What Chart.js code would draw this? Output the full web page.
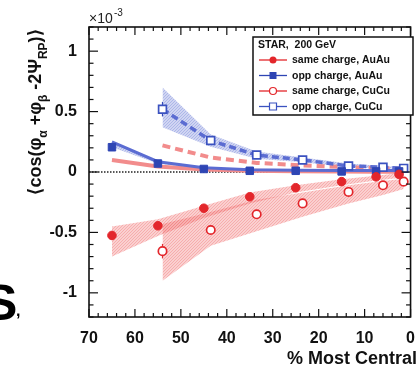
<!DOCTYPE html>
<html><head><meta charset="utf-8">
<script src="https://cdn.jsdelivr.net/npm/chart.js@4/dist/chart.umd.min.js"></script>
<style>html,body{margin:0;padding:0;background:#fff;overflow:hidden}#wrap{position:relative;width:419px;height:367px}</style>
</head><body><div id="wrap"><canvas id="c" width="419" height="367"></canvas></div>
<script>
// ---- data (units of 1e-3) ----
const xAu = [65, 55, 45, 35, 25, 15, 7.5, 2.5];
const xCu = [54, 43.5, 33.5, 23.5, 13.5, 6, 1.5];
const sameAu = [-0.525, -0.445, -0.30, -0.205, -0.13, -0.08, -0.04, -0.02];
const sameAuErr = [0.035, 0.02, 0.015, 0.01, 0.008, 0.008, 0.008, 0.008];
const oppAu = [0.205, 0.07, 0.025, 0.01, 0.01, 0.005, 0.005, 0.005];
const oppAuErr = [0.025, 0.015, 0.01, 0.008, 0.008, 0.008, 0.008, 0.008];
const sameCu = [-0.655, -0.48, -0.35, -0.26, -0.165, -0.11, -0.08];
const sameCuErr = [0.06, 0.03, 0.02, 0.015, 0.01, 0.01, 0.01];
const oppCu = [0.52, 0.26, 0.14, 0.10, 0.05, 0.04, 0.03];
const oppCuErr = [0.06, 0.03, 0.02, 0.015, 0.01, 0.01, 0.01];
// systematic bands
const sameAuBandHi = [-0.45, -0.39, -0.28, -0.17, -0.11, -0.06, -0.03, -0.01];
const sameAuBandLo = [-0.70, -0.53, -0.38, -0.26, -0.17, -0.11, -0.07, -0.05];
const sameCuBandHi = [-0.43, -0.33, -0.23, -0.17, -0.11, -0.075, -0.055];
const sameCuBandLo = [-0.90, -0.61, -0.49, -0.37, -0.26, -0.19, -0.14];
const oppAuEdge = [0.25, 0.085, 0.035, 0.018, 0.014, 0.012, 0.012, 0.012];
const oppCuBandHi = [0.70, 0.31, 0.17, 0.12, 0.07, 0.05, 0.04];
const oppCuBandLo = [0.37, 0.21, 0.11, 0.08, 0.04, 0.03, 0.025];
// HIJING three-particle contributions
const hijingAu = [0.10, 0.045, 0.02, 0.01, 0.006, 0.004, 0.003, 0.002];
const hijingCu = [0.22, 0.12, 0.075, 0.055, 0.04, 0.03, 0.03];
// ticks
const xTicks = [70, 60, 50, 40, 30, 20, 10, 0];
const yTicks = [-1, -0.5, 0, 0.5, 1];
const legendTitle = 'STAR,  200 GeV';
const legendLabels = ['same charge, AuAu', 'opp charge, AuAu', 'same charge, CuCu', 'opp charge, CuCu'];

const pts = (xs, ys) => xs.map((x, i) => ({x, y: ys[i]}));
const RED = '#e3262b', BLUE = '#2e45b4', PINK = '#f28c8c', LBLUE = '#5b6cd2';
const FONT = '"Liberation Sans", Arial, sans-serif';

function mkPattern(r, g, b) {
  const c = document.createElement('canvas'); c.width = c.height = 3;
  const x = c.getContext('2d');
  x.fillStyle = `rgba(${r},${g},${b},0.32)`; x.fillRect(0, 0, 3, 3);
  x.strokeStyle = `rgba(${r},${g},${b},0.35)`; x.lineWidth = 1;
  x.beginPath(); x.moveTo(0, 3); x.lineTo(3, 0); x.stroke();
  return document.getElementById('c').getContext('2d').createPattern(c, 'repeat');
}
const redBand = mkPattern(240, 110, 110), blueBand = mkPattern(110, 125, 215);

const band = (xs, ys, fill, bg) => ({data: pts(xs, ys), showLine: true, borderWidth: 0, pointRadius: 0, fill: fill, backgroundColor: bg, borderColor: 'rgba(0,0,0,0)'});

const datasets = [
  {data: pts(xAu, sameAu), showLine: false, pointStyle: 'circle', pointRadius: 4.3, backgroundColor: RED, borderColor: RED, borderWidth: 1, err: sameAuErr, errColor: RED},
  {data: pts(xAu, oppAu), showLine: false, pointStyle: 'rect', pointRadius: 5.3, backgroundColor: BLUE, borderColor: BLUE, borderWidth: 1, err: oppAuErr, errColor: BLUE},
  {data: pts(xCu, sameCu), showLine: false, pointStyle: 'circle', pointRadius: 4.2, backgroundColor: '#fff', borderColor: RED, borderWidth: 1.7, err: sameCuErr, errColor: RED},
  {data: pts(xCu, oppCu), showLine: false, pointStyle: 'rect', pointRadius: 5.5, backgroundColor: '#fff', borderColor: '#3b52c0', borderWidth: 1.7, err: oppCuErr, errColor: BLUE},
  {data: pts(xAu, oppAuEdge), showLine: true, pointRadius: 0, borderColor: LBLUE, borderWidth: 3, fill: false},
  {data: pts(xCu, oppCu), showLine: true, pointRadius: 0, borderColor: LBLUE, borderWidth: 3.5, borderDash: [7, 4], fill: false},
  {data: pts(xAu, hijingAu), showLine: true, pointRadius: 0, borderColor: PINK, borderWidth: 4, fill: false},
  {data: pts(xCu, hijingCu), showLine: true, pointRadius: 0, borderColor: PINK, borderWidth: 4, borderDash: [8, 5], fill: false},
  band(xAu, sameAuBandHi, '+1', redBand), band(xAu, sameAuBandLo, false, redBand),
  band(xCu, sameCuBandHi, '+1', redBand), band(xCu, sameCuBandLo, false, redBand),
  band(xAu, oppAuEdge, '+1', blueBand), band(xAu, oppAu, false, blueBand),
  band(xCu, oppCuBandHi, '+1', blueBand), band(xCu, oppCuBandLo, false, blueBand)
];

function line(ctx, a, b, c, d) { ctx.beginPath(); ctx.moveTo(a, b); ctx.lineTo(c, d); ctx.stroke(); }

const decor = {
  id: 'decor',
  beforeDatasetsDraw(chart) {
    const ctx = chart.ctx, ca = chart.chartArea, ys = chart.scales.y, xs = chart.scales.x;
    ctx.save();
    ctx.strokeStyle = '#222'; ctx.lineWidth = 1.5; ctx.setLineDash([1.5, 1.5]);
    const y0 = ys.getPixelForValue(0);
    line(ctx, ca.left, y0, ca.right, y0);
    ctx.setLineDash([]);
    chart.data.datasets.forEach(ds => {
      if (!ds.err) return;
      ctx.strokeStyle = ds.errColor; ctx.lineWidth = 1.2;
      ds.data.forEach((p, i) => {
        const px = xs.getPixelForValue(p.x);
        line(ctx, px, ys.getPixelForValue(p.y - ds.err[i]), px, ys.getPixelForValue(p.y + ds.err[i]));
      });
    });
    ctx.restore();
  },
  afterDatasetsDraw(chart) {
    const ctx = chart.ctx, ca = chart.chartArea, xs = chart.scales.x, ys = chart.scales.y;
    ctx.save();
    ctx.strokeStyle = '#111'; ctx.lineWidth = 1.2;
    for (let v = 0; v <= 70; v += 2) {
      const px = xs.getPixelForValue(v), L = v % 10 === 0 ? 8 : 4;
      line(ctx, px, ca.bottom, px, ca.bottom - L);
      line(ctx, px, ca.top, px, ca.top + L);
    }
    for (let i = -12; i <= 12; i++) {
      const py = ys.getPixelForValue(i / 10), L = i % 5 === 0 ? 9 : 4.5;
      line(ctx, ca.left, py, ca.left + L, py);
      line(ctx, ca.right, py, ca.right - L, py);
    }
    ctx.lineWidth = 1.6;
    ctx.strokeRect(ca.left, ca.top, ca.right - ca.left, ca.bottom - ca.top);
    ctx.restore();
  },
  afterDraw(chart) {
    const ctx = chart.ctx;
    ctx.save();
    const lx = 253, ly = 37, lw = 160, lh = 78;
    ctx.fillStyle = '#fff'; ctx.fillRect(lx, ly, lw, lh);
    ctx.strokeStyle = '#111'; ctx.lineWidth = 1.5; ctx.strokeRect(lx, ly, lw, lh);
    ctx.fillStyle = '#111'; ctx.font = 'bold 10.5px ' + FONT; ctx.textBaseline = 'middle';
    ctx.fillText(legendTitle, 258, 45);
    const rows = [60, 75.5, 91, 106.5];
    const styles = [
      {c: RED, shape: 'circle', fill: true}, {c: BLUE, shape: 'rect', fill: true},
      {c: RED, shape: 'circle', fill: false}, {c: '#3b52c0', shape: 'rect', fill: false}
    ];
    rows.forEach((y, i) => {
      const s = styles[i];
      ctx.strokeStyle = s.c; ctx.lineWidth = 1.3;
      line(ctx, 259, y, 287, y);
      ctx.beginPath();
      if (s.shape === 'circle') ctx.arc(273, y, 3.5, 0, Math.PI * 2);
      else ctx.rect(269.5, y - 3.5, 7, 7);
      if (s.fill) { ctx.fillStyle = s.c; ctx.fill(); }
      else { ctx.fillStyle = '#fff'; ctx.fill(); ctx.lineWidth = 1.2; ctx.stroke(); }
      ctx.fillStyle = '#111';
      ctx.fillText(legendLabels[i], 292, y + 0.5);
    });
    ctx.textBaseline = 'alphabetic'; ctx.fillStyle = '#222';
    ctx.font = '14px ' + FONT; ctx.fillText('×10', 89, 23);
    ctx.font = '10px ' + FONT; ctx.fillText('-3', 114, 16);
    ctx.translate(41, 112); ctx.rotate(-Math.PI / 2);
    const parts = [['⟨cos(φ', 0], ['α', 1], [' +φ', 0], ['β', 1], [' -2Ψ', 0], ['RP', 1], [')⟩', 0]];
    const mainF = 'bold 18px ' + FONT, subF = 'bold 12px ' + FONT;
    let tot = 0;
    parts.forEach(p => { ctx.font = p[1] ? subF : mainF; tot += ctx.measureText(p[0]).width; });
    let x = -tot / 2;
    ctx.fillStyle = '#111';
    parts.forEach(p => { ctx.font = p[1] ? subF : mainF; ctx.fillText(p[0], x, p[1] ? 6 : 0); x += ctx.measureText(p[0]).width; });
    ctx.setTransform(1, 0, 0, 1, 0, 0);
    ctx.font = 'bold 18px ' + FONT; ctx.textAlign = 'right'; ctx.fillStyle = '#111';
    ctx.fillText('% Most Central', 417, 364);
    ctx.textAlign = 'left'; ctx.fillStyle = '#000';
    ctx.font = 'bold 50px ' + FONT; ctx.fillText('S', -16, 320);
    ctx.font = 'bold 16px ' + FONT; ctx.fillText(',', 16, 316);
    ctx.restore();
  }
};

new Chart(document.getElementById('c'), {
  type: 'scatter',
  data: {datasets},
  options: {
    responsive: false, animation: false, events: [],
    layout: {padding: {left: 0, right: 5, top: 27, bottom: 0}},
    plugins: {legend: {display: false}, tooltip: {enabled: false}},
    elements: {line: {tension: 0}},
    scales: {
      x: {
        type: 'linear', min: 0, max: 70, reverse: true,
        grid: {display: false}, border: {display: false},
        afterBuildTicks: s => { s.ticks = xTicks.map(v => ({value: v})); },
        afterFit: s => { s.height = 50; },
        ticks: {autoSkip: false, maxRotation: 0, padding: 4, color: '#111', font: {family: FONT, size: 16, weight: 'bold'}, callback: v => String(v)}
      },
      y: {
        type: 'linear', min: -1.2, max: 1.2,
        grid: {display: false}, border: {display: false},
        afterBuildTicks: s => { s.ticks = yTicks.map(v => ({value: v})); },
        afterFit: s => { s.width = 89; },
        ticks: {autoSkip: false, padding: 4, color: '#111', font: {family: FONT, size: 16, weight: 'bold'}, callback: v => String(v)}
      }
    }
  },
  plugins: [decor]
});
</script></body></html>
